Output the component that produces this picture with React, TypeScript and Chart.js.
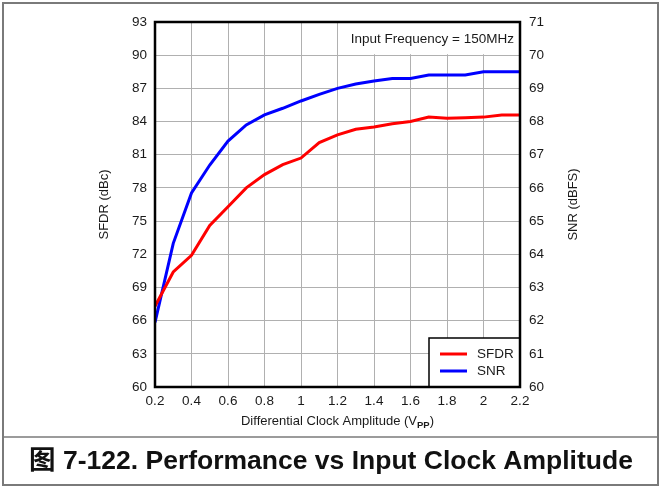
import React, { useEffect, useRef } from "react";
import { Chart, registerables } from "chart.js";

Chart.register(...registerables);

const amplitude = [0.2, 0.3, 0.4, 0.5, 0.6, 0.7, 0.8, 0.9, 1.0, 1.1, 1.2, 1.3, 1.4, 1.5, 1.6, 1.7, 1.8, 1.9, 2.0, 2.1, 2.2];
const sfdr = [67.3, 70.4, 71.9, 74.6, 76.3, 78.0, 79.2, 80.1, 80.7, 82.1, 82.8, 83.3, 83.5, 83.8, 84.0, 84.4, 84.3, 84.35, 84.4, 84.6, 84.6];
const snr = [61.95, 64.33, 65.85, 66.69, 67.41, 67.9, 68.2, 68.4, 68.62, 68.82, 69.0, 69.13, 69.22, 69.3, 69.3, 69.4, 69.4, 69.4, 69.5, 69.5, 69.5];
const xTicks = [0.2, 0.4, 0.6, 0.8, 1.0, 1.2, 1.4, 1.6, 1.8, 2.0, 2.2];
const sfdrTicks = [60, 63, 66, 69, 72, 75, 78, 81, 84, 87, 90, 93];
const snrTicks = [60, 61, 62, 63, 64, 65, 66, 67, 68, 69, 70, 71];
const seriesNames = ["SFDR", "SNR"];
const annotationText = "Input Frequency = 150MHz";
const captionText = "图 7-122. Performance vs Input Clock Amplitude";

const FONT = "'Liberation Sans', Arial, 'Noto Sans CJK SC', sans-serif";
const TEXT = "#1a1a1a";

const decor = {
  id: "decor",
  beforeDraw(chart: any) {
    const ctx = chart.ctx;
    ctx.save();
    ctx.fillStyle = "#ffffff";
    ctx.fillRect(0, 0, chart.width, chart.height);
    ctx.restore();
  },
  afterDraw(chart: any) {
    const ctx = chart.ctx;
    const { left, right, top, bottom } = chart.chartArea;
    const yL = chart.scales.y;
    ctx.save();

    // annotation box
    const y90 = yL.getPixelForValue(90);
    ctx.fillStyle = "#ffffff";
    ctx.fillRect(340, top, right - 340, y90 - top - 1);
    ctx.fillStyle = TEXT;
    ctx.font = `13.5px ${FONT}`;
    ctx.textAlign = "right";
    ctx.textBaseline = "middle";
    ctx.fillText(annotationText, right - 6, top + 17);

    // legend
    const lw = 91, lh = 49;
    ctx.fillStyle = "#ffffff";
    ctx.fillRect(right - lw, bottom - lh, lw, lh);
    ctx.strokeStyle = "#000";
    ctx.lineWidth = 1.5;
    ctx.strokeRect(right - lw, bottom - lh, lw, lh);
    const colors = ["#ff0000", "#0000ff"];
    seriesNames.forEach((name, i) => {
      const yy = bottom - 33 + i * 17;
      ctx.strokeStyle = colors[i];
      ctx.lineWidth = 3;
      ctx.beginPath();
      ctx.moveTo(right - 80, yy);
      ctx.lineTo(right - 53, yy);
      ctx.stroke();
      ctx.fillStyle = TEXT;
      ctx.textAlign = "left";
      ctx.textBaseline = "middle";
      ctx.fillText(name, right - 43, yy + 0.5);
    });

    // plot border
    ctx.strokeStyle = "#000";
    ctx.lineWidth = 2.5;
    ctx.strokeRect(left, top, right - left, bottom - top);

    // axis titles
    ctx.fillStyle = TEXT;
    ctx.font = `13px ${FONT}`;
    ctx.textAlign = "center";
    ctx.textBaseline = "middle";
    const cy = (top + bottom) / 2;
    ctx.save();
    ctx.translate(left - 51, cy);
    ctx.rotate(-Math.PI / 2);
    ctx.fillText("SFDR (dBc)", 0, 0);
    ctx.restore();
    ctx.save();
    ctx.translate(right + 53, cy);
    ctx.rotate(-Math.PI / 2);
    ctx.fillText("SNR (dBFS)", 0, 0);
    ctx.restore();

    // x title with subscript
    const p1 = "Differential Clock Amplitude (V";
    const p2 = "PP";
    const p3 = ")";
    ctx.font = `13px ${FONT}`;
    const w1 = ctx.measureText(p1).width;
    const w3 = ctx.measureText(p3).width;
    ctx.font = `bold 9.5px ${FONT}`;
    const w2 = ctx.measureText(p2).width;
    const total = w1 + w2 + w3;
    let x = (left + right) / 2 - total / 2;
    const ty = bottom + 38;
    ctx.textAlign = "left";
    ctx.textBaseline = "alphabetic";
    ctx.font = `13px ${FONT}`;
    ctx.fillText(p1, x, ty);
    x += w1;
    ctx.font = `bold 9.5px ${FONT}`;
    ctx.fillText(p2, x, ty + 2.5);
    x += w2;
    ctx.font = `13px ${FONT}`;
    ctx.fillText(p3, x, ty);

    // separator and frame
    ctx.strokeStyle = "#7a7a7a";
    ctx.lineWidth = 1.5;
    ctx.beginPath();
    ctx.moveTo(3, 437);
    ctx.lineTo(658, 437);
    ctx.stroke();
    ctx.lineWidth = 2;
    ctx.strokeRect(3, 3, 655, 482);

    // caption
    ctx.fillStyle = "#111";
    ctx.font = `bold 26.5px ${FONT}`;
    ctx.textAlign = "center";
    ctx.textBaseline = "middle";
    ctx.fillText(captionText, 331, 462);

    ctx.restore();
  },
};

export default function App() {
  const ref = useRef<HTMLCanvasElement | null>(null);
  useEffect(() => {
    if (!ref.current) return;
    const chart = new Chart(ref.current, {
      type: "line",
      data: {
        datasets: [
          {
            label: seriesNames[0],
            data: amplitude.map((a, i) => ({ x: a, y: sfdr[i] })),
            borderColor: "#ff0000",
            borderWidth: 3,
            pointRadius: 0,
            tension: 0,
            yAxisID: "y",
          },
          {
            label: seriesNames[1],
            data: amplitude.map((a, i) => ({ x: a, y: snr[i] })),
            borderColor: "#0000ff",
            borderWidth: 3,
            pointRadius: 0,
            tension: 0,
            yAxisID: "y2",
          },
        ],
      },
      options: {
        responsive: false,
        animation: false,
        devicePixelRatio: 1,
        layout: { padding: { top: 22, left: 0, right: 0, bottom: 0 } },
        plugins: { legend: { display: false }, tooltip: { enabled: false }, title: { display: false } },
        scales: {
          x: {
            type: "linear",
            min: 0.2,
            max: 2.2,
            afterBuildTicks: (s: any) => { s.ticks = xTicks.map((v) => ({ value: v })); },
            afterFit: (s: any) => { s.height = 101; },
            grid: { color: "#b0b0b0", lineWidth: 1, drawTicks: false },
            border: { display: false },
            ticks: {
              padding: 6,
              color: TEXT,
              font: { family: FONT, size: 13.5 },
              maxRotation: 0,
              autoSkip: false,
              callback: (v: any) => String(Number(Number(v).toFixed(1))),
            },
          },
          y: {
            type: "linear",
            position: "left",
            min: 60,
            max: 93,
            afterBuildTicks: (s: any) => { s.ticks = sfdrTicks.map((v) => ({ value: v })); },
            afterFit: (s: any) => { s.width = 155; },
            grid: { color: "#b0b0b0", lineWidth: 1, drawTicks: false },
            border: { display: false },
            ticks: { padding: 8, color: TEXT, font: { family: FONT, size: 13.5 }, autoSkip: false },
          },
          y2: {
            type: "linear",
            position: "right",
            min: 60,
            max: 71,
            afterBuildTicks: (s: any) => { s.ticks = snrTicks.map((v) => ({ value: v })); },
            afterFit: (s: any) => { s.width = 142; },
            grid: { display: false, drawTicks: false },
            border: { display: false },
            ticks: { padding: 9, color: TEXT, font: { family: FONT, size: 13.5 }, autoSkip: false },
          },
        },
      },
      plugins: [decor],
    } as any);
    return () => chart.destroy();
  }, []);
  return (
    <div style={{ position: "fixed", left: 0, top: 0, width: 662, height: 488, background: "#fff" }}>
      <canvas ref={ref} width={662} height={488} style={{ display: "block", width: 662, height: 488 }} />
    </div>
  );
}
